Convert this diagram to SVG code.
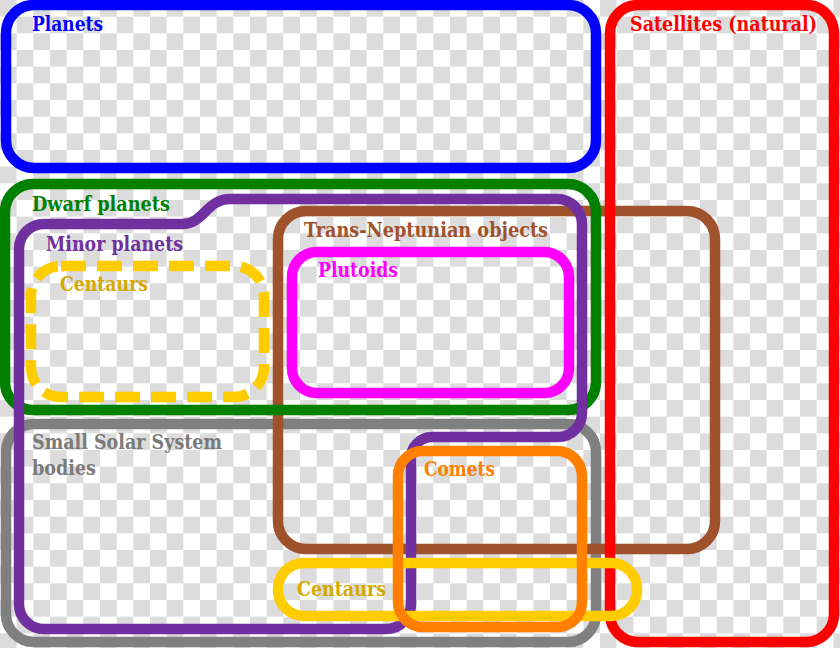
<svg xmlns="http://www.w3.org/2000/svg" width="840" height="648" viewBox="0 0 840 648">
  <defs>
    <pattern id="checker" x="0" y="0" width="33.333" height="33.333" patternUnits="userSpaceOnUse">
      <rect x="0" y="0" width="33.333" height="33.333" fill="#ffffff"/>
      <rect x="0" y="0" width="16.667" height="16.667" fill="#dcdcdc"/>
      <rect x="16.667" y="16.667" width="16.667" height="16.667" fill="#dcdcdc"/>
    </pattern>
  </defs>
  <style>
    .set { fill: none; stroke-width: 10.5; stroke-linejoin: round; }
    .lbl { font-family: "DejaVu Serif Condensed", "DejaVu Serif", "Liberation Serif", serif; font-stretch: condensed; font-weight: bold; font-size: 19.5px; }
  </style>
  <rect x="0" y="0" width="840" height="648" fill="url(#checker)"/>

  <g id="planets">
    <rect class="set" x="6" y="5" width="590" height="163" rx="28" stroke="#0000ff"/>
    <text class="lbl" x="32" y="31" fill="#0000ff" textLength="71" lengthAdjust="spacingAndGlyphs">Planets</text>
  </g>

  <g id="small-solar-system-bodies">
    <rect class="set" x="6" y="424" width="590" height="218" rx="28" stroke="#808080"/>
    <text class="lbl" x="32" y="449" fill="#7a7a7a" textLength="190" lengthAdjust="spacingAndGlyphs">Small Solar System</text>
    <text class="lbl" x="32" y="475" fill="#7a7a7a" textLength="64" lengthAdjust="spacingAndGlyphs">bodies</text>
  </g>

  <g id="trans-neptunian-objects">
    <rect class="set" x="278" y="211" width="437" height="338" rx="28" stroke="#a0522d"/>
    <text class="lbl" x="304" y="237" fill="#a0522d" textLength="244" lengthAdjust="spacingAndGlyphs">Trans-Neptunian objects</text>
  </g>

  <g id="satellites">
    <rect class="set" x="610" y="5" width="224" height="637" rx="28" stroke="#ff0000"/>
    <text class="lbl" x="630" y="31" fill="#ff0000" textLength="187" lengthAdjust="spacingAndGlyphs">Satellites (natural)</text>
  </g>

  <g id="dwarf-planets">
    <rect class="set" x="5" y="184" width="591" height="226" rx="28" stroke="#008000"/>
    <text class="lbl" x="32" y="211" fill="#008000" textLength="138" lengthAdjust="spacingAndGlyphs">Dwarf planets</text>
  </g>

  <g id="minor-planets">
    <path class="set" stroke="#7030a0" d="M 19 249 A 25 25 0 0 1 44 224 L 183 224 C 203 224 207 199 230 199 L 557 199 A 25 25 0 0 1 582 224 L 582 413 A 24 24 0 0 1 558 437 L 432 437 A 21 21 0 0 0 411 458 L 411 604 A 25 25 0 0 1 386 629 L 44 629 A 25 25 0 0 1 19 604 Z"/>
    <text class="lbl" x="46" y="251" fill="#7030a0" textLength="137" lengthAdjust="spacingAndGlyphs">Minor planets</text>
  </g>

  <g id="plutoids">
    <rect class="set" x="292" y="252" width="277" height="141" rx="25" stroke="#ff00ff"/>
    <text class="lbl" x="318" y="277" fill="#ff00ff" textLength="80" lengthAdjust="spacingAndGlyphs">Plutoids</text>
  </g>

  <g id="centaurs-dwarf">
    <rect class="set" x="31" y="266" width="233" height="131" rx="30" stroke="#ffcc00" stroke-dasharray="25 11"/>
    <text class="lbl" x="60" y="291" fill="#d4aa00" textLength="88" lengthAdjust="spacingAndGlyphs">Centaurs</text>
  </g>

  <g id="centaurs-small">
    <rect class="set" x="278" y="563" width="359" height="53" rx="26" stroke="#ffcc00"/>
    <text class="lbl" x="297" y="596" fill="#d4aa00" textLength="89" lengthAdjust="spacingAndGlyphs">Centaurs</text>
  </g>

  <g id="comets">
    <rect class="set" x="398" y="451" width="184" height="176" rx="25" stroke="#ff7f00"/>
    <text class="lbl" x="424" y="476" fill="#ff7f00" textLength="71" lengthAdjust="spacingAndGlyphs">Comets</text>
  </g>

  <g id="connectors"/>
</svg>
